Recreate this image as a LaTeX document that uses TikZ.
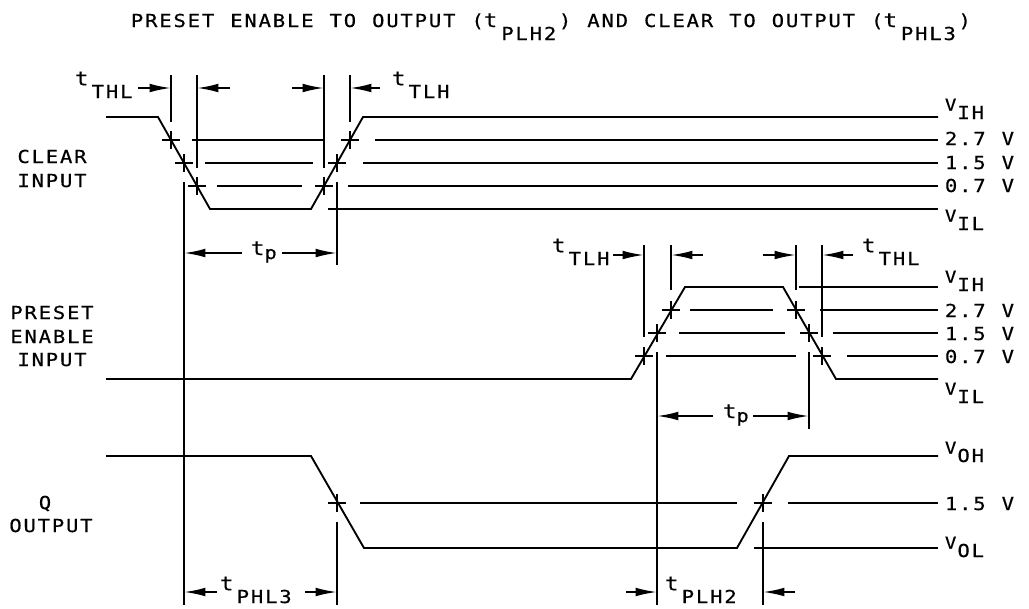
\documentclass[tikz,border=0pt]{standalone}
\usepackage{fontspec}
\usetikzlibrary{arrows.meta}
\newfontfamily\cad[LetterSpace=10.2,FakeStretch=1.15,FakeBold=0.5]{DejaVu Sans Mono}
\newfontfamily\cadsm[LetterSpace=10.2,FakeStretch=1.15,FakeBold=0.5]{DejaVu Sans Mono}
\newcommand\cadf{\cad\fontsize{13.4}{16}\selectfont\spaceskip=12pt\relax}
\newcommand\smv{\cadsm\fontsize{12.4}{14}\selectfont}
\newcommand\tsm{{\cadsm\fontsize{14.6}{16}\selectfont t}}
\newcommand\tlab[1]{\raisebox{9.5pt}{\tsm}\kern2.5pt\relax#1}
\newcommand\vlab[1]{\raisebox{6.2pt}{\smv V}\kern0.8pt\relax#1}
\newcommand\lowr[1]{\kern3pt\raisebox{-9.75pt}{#1}\kern2pt\relax}
\begin{document}
\begin{tikzpicture}[x=0.75pt,y=-0.75pt,line width=1.4pt,
  txt/.style={font=\cadf,inner sep=0pt,anchor=base west},
  ctr/.style={font=\cadf,inner sep=0pt,anchor=base},
  dim/.style={-{Latex[length=16pt,width=6.5pt]}},
  crossmark/.pic={\draw (-9,0)--(9,0) (0,-9)--(0,9);}]
\useasboundingbox (0,0) rectangle (1029,608);

% title
\node[txt] (title) at (130,27) {PRESET ENABLE TO OUTPUT (\tsm\lowr{PLH2}) AND CLEAR TO OUTPUT (\tsm\lowr{PHL3})};

% left labels
\node[ctr] (cl1) at (52,163) {CLEAR};
\node[ctr] (cl2) at (52,187) {INPUT};
\node[ctr] (pr1) at (52,319) {PRESET};
\node[ctr] (pr2) at (52,343) {ENABLE};
\node[ctr] (pr3) at (52,366) {INPUT};
\node[ctr] (q1) at (45,509) {Q};
\node[ctr] (q2) at (51,532) {OUTPUT};

% right labels
\node[txt] (cvih) at (944,119) {\vlab{IH}};
\node[txt] (c27) at (944,145) {2.7 V};
\node[txt] (c15) at (944,169) {1.5 V};
\node[txt] (c07) at (944,192) {0.7 V};
\node[txt] (cvil) at (944,230) {\vlab{IL}};
\node[txt] (pvih) at (944,291) {\vlab{IH}};
\node[txt] (p27) at (944,317) {2.7 V};
\node[txt] (p15) at (944,340) {1.5 V};
\node[txt] (p07) at (944,363) {0.7 V};
\node[txt] (pvil) at (944,403) {\vlab{IL}};
\node[txt] (qvoh) at (944,462) {\vlab{OH}};
\node[txt] (q15) at (944,510) {1.5 V};
\node[txt] (qvol) at (944,557) {\vlab{OL}};

% timing labels
\node[txt] (cthl) at (74,98) {\tlab{THL}};
\node[txt] (ctlh) at (391,98) {\tlab{TLH}};
\node[txt] (ctp) at (250,255) {\tsm\raisebox{-3pt}{p}};
\node[txt] (ptlh) at (551,265) {\tlab{TLH}};
\node[txt] (pthl) at (861,265) {\tlab{THL}};
\node[txt] (ptp) at (722,418) {\tsm\raisebox{-3pt}{p}};
\node[txt] (qphl) at (219,603) {\tlab{PHL3}};
\node[txt] (qplh) at (664,603) {\tlab{PLH2}};

% ---- CLEAR INPUT ----
\draw (106,117)--(158,117)--(210,209)--(311,209)--(363,117)--(938,117);
\draw (192,140)--(324,140) (375,140)--(938,140);
\draw (205,163)--(313,163) (363,163)--(938,163);
\draw (217,186)--(302,186) (348,186)--(938,186);
\draw (328,209)--(938,209);
\foreach \p in {(171,140),(184,163),(197,186),(324,186),(337,163),(350,140)}
  \pic at \p {crossmark};
\draw (171,75)--(171,122) (197,75)--(197,168) (324,75)--(324,168) (350,75)--(350,122);
\draw (184,182)--(184,605) (337,182)--(337,265);
\draw[dim] (138,88)--(171,88);
\draw[dim] (230,88)--(197,88);
\draw[dim] (292,88)--(324,88);
\draw[dim] (380,88)--(350,88);
\draw[dim] (242,253)--(184,253);
\draw[dim] (282,253)--(337,253);

% ---- PRESET ENABLE INPUT ----
\draw (106,379)--(631,379)--(685,287)--(783,287)--(836,379)--(938,379);
\draw (799,287)--(938,287);
\draw (690,310)--(773,310) (820,310)--(938,310);
\draw (679,333)--(785,333) (833,333)--(938,333);
\draw (666,356)--(796,356) (847,356)--(938,356);
\foreach \p in {(644,356),(657,333),(671,310),(796,310),(809,333),(822,356)}
  \pic at \p {crossmark};
\draw (644,245)--(644,337) (671,245)--(671,290) (796,245)--(796,290) (822,245)--(822,337);
\draw (657,352)--(657,605) (809,352)--(809,429);
\draw[dim] (613,255)--(644,255);
\draw[dim] (703,255)--(671,255);
\draw[dim] (763,255)--(796,255);
\draw[dim] (853,255)--(822,255);
\draw[dim] (713,416)--(657,416);
\draw[dim] (753,416)--(809,416);

% ---- Q OUTPUT ----
\draw (106,456)--(311,456)--(364,548)--(737,548)--(789,456)--(938,456);
\draw (360,503)--(737,503) (788,503)--(938,503);
\draw (754,548)--(938,548);
\foreach \p in {(337,503),(763,503)}
  \pic at \p {crossmark};
\draw (337,522)--(337,605) (763,522)--(763,605);
\draw[dim] (217,592)--(184,592);
\draw[dim] (305,592)--(337,592);
\draw[dim] (626,592)--(657,592);
\draw[dim] (795,592)--(763,592);
\end{tikzpicture}
\end{document}
